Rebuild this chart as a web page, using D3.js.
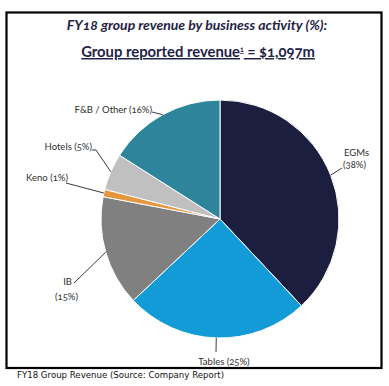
<!DOCTYPE html>
<html>
<head>
<meta charset="utf-8">
<script src="https://cdn.jsdelivr.net/npm/d3@7"></script>
<style>
  html, body { margin: 0; padding: 0; background: #fff; }
  svg { display: block; }
  .slice-label { font-family: Lato, "Open Sans", sans-serif; font-size: 9.5px; fill: #2e2e2e; font-variant-numeric: oldstyle-nums; }
  .leader { stroke: #3c3c3c; stroke-width: 1; fill: none; }
  .title { font-family: Lato, "Open Sans", sans-serif; font-weight: bold; fill: #1f2346; font-variant-numeric: oldstyle-nums; }
  .caption { font-family: "DejaVu Sans", sans-serif; font-size: 9px; fill: #111; }
</style>
</head>
<body>
<div id="chart"></div>
<script>
// data (clockwise from 12 o'clock)
const categories = ["EGMs", "Tables", "IB", "Keno", "Hotels", "F&B / Other"];
const shares = [38, 25, 15, 1, 5, 16];
const colours = ["#1c1e3f", "#139bd7", "#808080", "#e7963e", "#c0c0c0", "#2e849b"];

const width = 389, height = 386;
const cx = 220, cy = 219, radius = 119;

// label placement, relative to where the leader meets the pie edge
// pts: leader points after the edge point; lines: text lines [text, x, y, anchor]
const labelLayout = {
  "EGMs": { pts: [[342, 168]], lines: [["EGMs", 344, 153, "start"], ["(38%)", 343, 165, "start"]] },
  "Tables": { pts: [[216, 352]], lines: [["Tables (25%)", 224, 362, "middle"]] },
  "IB": { pts: [[74, 283]], lines: [["IB", 72, 282, "end"], ["(15%)", 66.5, 297, "middle"]] },
  "Keno": { pts: [[66, 183]], lines: [["Keno (1%)", 68, 178, "end"]] },
  "Hotels": { pts: [[96, 150], [92, 150]], lines: [["Hotels (5%)", 92, 147, "end"]] },
  "F&B / Other": { pts: [[152, 112]], lines: [["F&B / Other (16%)", 152, 110, "end"]] }
};

const svg = d3.select("#chart")
  .append("svg")
  .attr("width", width)
  .attr("height", height);

// frame
svg.append("rect")
  .attr("x", 6.5).attr("y", 12.5)
  .attr("width", 375).attr("height", 355.5)
  .attr("fill", "none")
  .attr("stroke", "#000")
  .attr("stroke-width", 2.2);

// titles
svg.append("text")
  .attr("class", "title")
  .attr("x", 197).attr("y", 30)
  .attr("text-anchor", "middle")
  .attr("font-size", "14px")
  .attr("font-style", "italic")
  .text("FY18 group revenue by business activity (%):");

const t2 = svg.append("text")
  .attr("class", "title")
  .attr("x", 198).attr("y", 57)
  .attr("text-anchor", "middle")
  .attr("font-size", "14.8px")
  .attr("text-decoration", "underline");
t2.append("tspan").text("Group reported revenue");
t2.append("tspan").attr("font-size", "7px").attr("dy", -5).text("1");
t2.append("tspan").attr("dy", 5).text(" = $1,097m");

// pie
const pie = d3.pie().sort(null).value((d, i) => shares[i]);
const arcs = pie(categories);
const arc = d3.arc().innerRadius(0).outerRadius(radius);

const g = svg.append("g").attr("transform", `translate(${cx},${cy})`);

g.selectAll("path")
  .data(arcs)
  .enter()
  .append("path")
  .attr("d", arc)
  .attr("fill", (d, i) => colours[i])
  .attr("stroke", "#fff")
  .attr("stroke-width", 1);

// leaders + labels
arcs.forEach((d) => {
  const mid = (d.startAngle + d.endAngle) / 2;
  const ex = cx + radius * Math.sin(mid);
  const ey = cy - radius * Math.cos(mid);
  const lay = labelLayout[d.data];
  svg.append("polyline")
    .attr("class", "leader")
    .attr("points", [[ex, ey], ...lay.pts].map((p) => p.join(",")).join(" "));
  lay.lines.forEach(([txt, x, y, anchor]) => {
    svg.append("text")
      .attr("class", "slice-label")
      .attr("x", x).attr("y", y)
      .attr("dy", "0.35em")
      .attr("text-anchor", anchor)
      .text(txt);
  });
});

// caption
svg.append("text")
  .attr("class", "caption")
  .attr("x", 17).attr("y", 375)
  .attr("dy", "0.35em")
  .attr("textLength", 207)
  .attr("lengthAdjust", "spacingAndGlyphs")
  .text("FY18 Group Revenue (Source: Company Report)");
</script>
</body>
</html>
